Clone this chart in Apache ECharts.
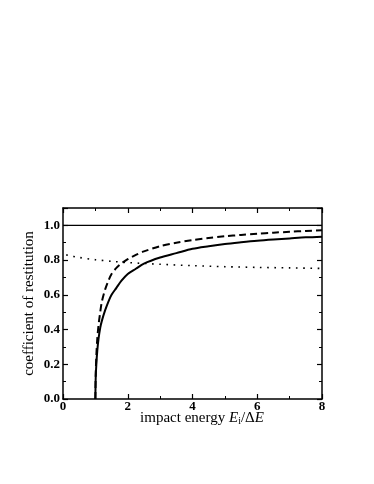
<!DOCTYPE html>
<html>
<head>
<meta charset="utf-8">
<script src="https://cdn.jsdelivr.net/npm/echarts@6/dist/echarts.min.js"></script>
<style>
  html, body { margin: 0; padding: 0; background: #fff; }
  #chart { width: 374px; height: 484px; }
</style>
</head>
<body>
<div id="chart"></div>
<script>
// values
const solidX = [1.0, 1.01, 1.03, 1.06, 1.1, 1.15, 1.2, 1.3, 1.4, 1.5, 1.65, 1.8, 2.0, 2.25, 2.5, 3.0, 3.5, 4.0, 4.5, 5.0, 5.5, 6.0, 6.5, 7.0, 7.5, 8.0]
const solidY = [0, 0.12, 0.2, 0.28, 0.35, 0.41, 0.45, 0.51, 0.56, 0.6, 0.64, 0.68, 0.72, 0.75, 0.78, 0.815, 0.84, 0.865, 0.88, 0.893, 0.903, 0.912, 0.919, 0.925, 0.931, 0.935]

const dashX = [1.0, 1.01, 1.03, 1.06, 1.1, 1.15, 1.2, 1.3, 1.4, 1.5, 1.65, 1.8, 2.0, 2.25, 2.5, 3.0, 3.5, 4.0, 4.5, 5.0, 5.5, 6.0, 6.5, 7.0, 7.5, 8.0]
const dashY = [0, 0.14, 0.25, 0.35, 0.43, 0.5, 0.56, 0.63, 0.68, 0.72, 0.755, 0.78, 0.805, 0.83, 0.85, 0.88, 0.9, 0.915, 0.927, 0.937, 0.945, 0.952, 0.958, 0.963, 0.968, 0.972]

const dotX = [0.1, 0.5, 1, 1.5, 2, 3, 4, 5, 6, 7, 8]
const dotY = [0.83, 0.815, 0.802, 0.793, 0.786, 0.776, 0.768, 0.762, 0.758, 0.755, 0.752]

const refX = [0, 8]
const refY = [1.0, 1.0]

const pairs = (xs, ys) => xs.map((x, i) => [x, ys[i]])

const chart = echarts.init(document.getElementById('chart'))

const axisCommon = {
  type: 'value',
  axisLine: { show: true, onZero: false, lineStyle: { color: '#000', width: 1.5 } },
  axisTick: { show: true, inside: true, length: 5, lineStyle: { color: '#000', width: 1.2 } },
  minorTick: { show: true, splitNumber: 2, length: 3, lineStyle: { color: '#000', width: 1 } },
  splitLine: { show: false },
  minorSplitLine: { show: false }
}
const labelFont = { fontFamily: 'Liberation Serif', fontWeight: 'bold', fontSize: 13, color: '#000' }

const option = {
  animation: false,
  grid: { left: 63, right: 52, top: 208, bottom: 85, containLabel: false },
  xAxis: [
    Object.assign({}, axisCommon, {
      min: 0, max: 8, interval: 2,
      axisLabel: Object.assign({ margin: 1, formatter: v => v.toFixed(0) }, labelFont),
      name: 'impact energy {it|E}{sub|i}/Δ{it|E}',
      nameLocation: 'middle',
      nameGap: 11,
      nameMoveOverlap: false,
      nameTextStyle: {
        fontFamily: 'Liberation Serif', fontSize: 15, color: '#000',
        padding: [0, 0, 0, 19],
        rich: {
          it: { fontFamily: 'Liberation Serif', fontStyle: 'italic', fontSize: 15, color: '#000' },
          sub: { fontFamily: 'Liberation Serif', fontSize: 10, color: '#000', padding: [6, 0, 0, 0] }
        }
      }
    }),
    Object.assign({}, axisCommon, {
      position: 'top', min: 0, max: 8, interval: 2,
      axisLabel: { show: false }
    })
  ],
  yAxis: [
    Object.assign({}, axisCommon, {
      min: 0, max: 1.1, interval: 0.2,
      axisLabel: Object.assign({ margin: 3, formatter: v => v.toFixed(1), showMaxLabel: false }, labelFont),
      name: 'coefficient of restitution',
      nameLocation: 'middle',
      nameGap: 26,
      nameMoveOverlap: false,
      nameTextStyle: { fontFamily: 'Liberation Serif', fontSize: 15, color: '#000' }
    }),
    Object.assign({}, axisCommon, {
      position: 'right', min: 0, max: 1.1, interval: 0.2,
      axisLabel: { show: false }
    })
  ],
  series: [
    {
      type: 'line', data: pairs(refX, refY), showSymbol: false, silent: true,
      lineStyle: { color: '#000', width: 1.2 }
    },
    {
      type: 'line', data: pairs(solidX, solidY), showSymbol: false, smooth: 0.3, silent: true,
      lineStyle: { color: '#000', width: 2 }
    },
    {
      type: 'line', data: pairs(dashX, dashY), showSymbol: false, smooth: 0.3, silent: true,
      lineStyle: { color: '#000', width: 2, type: [7, 4] }
    },
    {
      type: 'line', data: pairs(dotX, dotY), showSymbol: false, smooth: 0.3, silent: true,
      lineStyle: { color: '#000', width: 1.6, type: [1.6, 5.6] }
    }
  ]
}
chart.setOption(option)
</script>
</body>
</html>
